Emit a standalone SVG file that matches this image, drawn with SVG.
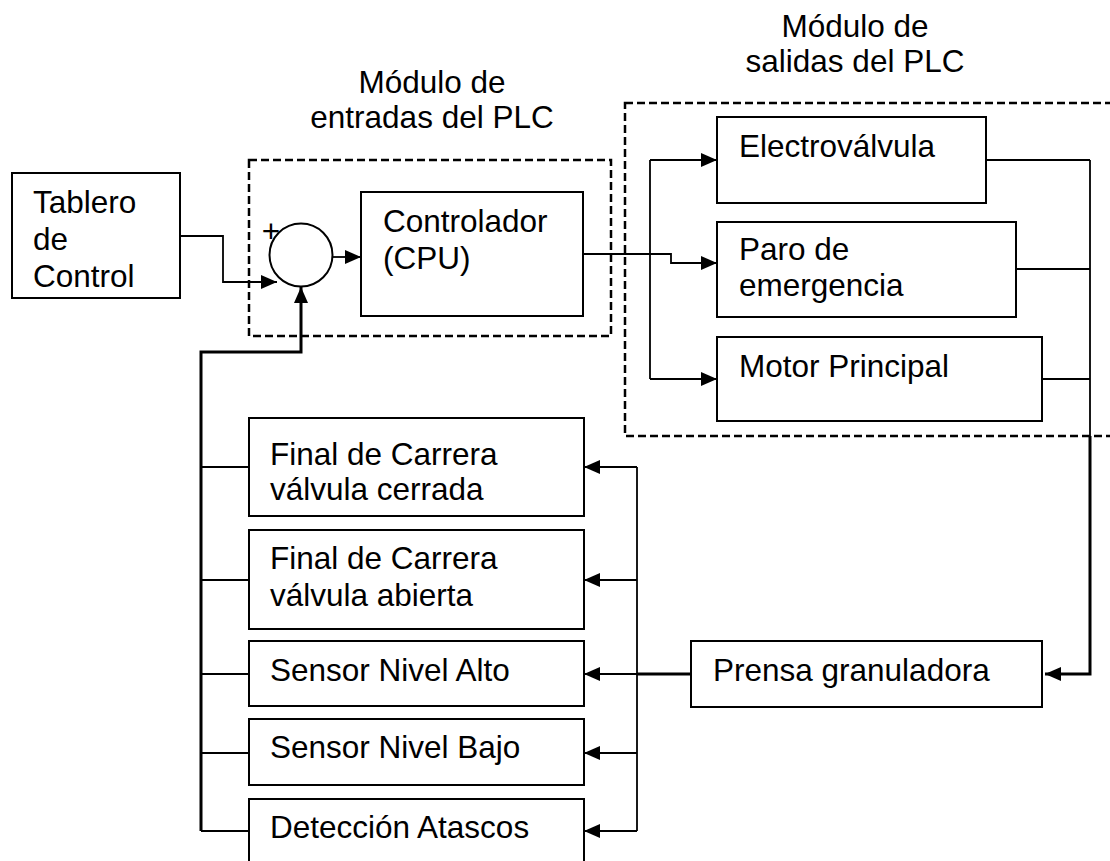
<svg xmlns="http://www.w3.org/2000/svg" width="1110" height="861" viewBox="0 0 1110 861">
<style>
.box{fill:#fff;stroke:#000;stroke-width:2}
.dash{fill:none;stroke:#000;stroke-width:2.5;stroke-dasharray:8 4}
.t{font-family:"Liberation Sans",Arial,sans-serif;font-size:31.5px;fill:#000}
.c{text-anchor:middle}
.ln{fill:none;stroke:#000;stroke-width:1.8}
.thick{fill:none;stroke:#000;stroke-width:3}
</style>
<defs>
<marker id="ah" markerUnits="userSpaceOnUse" markerWidth="16" markerHeight="14" refX="16" refY="7" orient="auto">
<path d="M0,0 L16,7 L0,14 Z" fill="#000"/>
</marker>
</defs>
<rect width="1110" height="861" fill="#fff"/>
<g id="labels">
<text class="t c" x="432" y="93">Módulo de</text>
<text class="t c" x="432" y="128">entradas del PLC</text>
<text class="t c" x="855" y="37">Módulo de</text>
<text class="t c" x="855" y="72">salidas del PLC</text>
</g>
<g id="modulo-entradas"><rect class="dash" x="249" y="160" width="362" height="176"/></g>
<g id="modulo-salidas"><rect class="dash" x="625" y="103" width="510" height="333"/></g>
<g id="connectors">
<path class="ln" d="M180,236 H223 V282 H277" marker-end="url(#ah)"/>
<path class="ln" d="M332,257 H361" marker-end="url(#ah)"/>
<path class="thick" d="M201,831 V352 H301 V287" marker-end="url(#ah)"/>
<path class="ln" d="M201,467 H249 M201,580 H249 M201,674 H249 M201,753 H249 M201,831 H249"/>
<path class="ln" d="M583,254 H650 M650,160 V379"/>
<path class="ln" d="M650,160 H717" marker-end="url(#ah)"/>
<path class="ln" d="M650,254 H671 V263 H717" marker-end="url(#ah)"/>
<path class="ln" d="M650,379 H717" marker-end="url(#ah)"/>
<path class="ln" d="M986,160 H1090 M1016,269 H1090 M1042,379 H1090 M1090,160 V436"/>
<path class="thick" d="M1090,436 V674 H1045" marker-end="url(#ah)"/>
<path class="thick" d="M691,674 H637"/>
<path class="ln" d="M637,467 V831"/>
<path class="ln" d="M637,467 H584" marker-end="url(#ah)"/>
<path class="ln" d="M637,580 H584" marker-end="url(#ah)"/>
<path class="ln" d="M637,674 H584" marker-end="url(#ah)"/>
<path class="ln" d="M637,753 H584" marker-end="url(#ah)"/>
<path class="ln" d="M637,831 H584" marker-end="url(#ah)"/>
</g>
<g id="tablero"><rect class="box" x="12" y="173" width="168" height="125"/>
<text class="t" x="33" y="213">Tablero</text><text class="t" x="33" y="250">de</text><text class="t" x="33" y="287">Control</text></g>
<g id="sumador"><circle cx="301" cy="255" r="31.5" fill="#fff" stroke="#000" stroke-width="2"/>
<text class="t c" x="271" y="242">+</text></g>
<g id="cpu"><rect class="box" x="361" y="192" width="222" height="124"/>
<text class="t" x="383" y="232">Controlador</text><text class="t" x="383" y="269">(CPU)</text></g>
<g id="electrovalvula"><rect class="box" x="717" y="117" width="269" height="86"/>
<text class="t" x="739" y="157">Electroválvula</text></g>
<g id="paro"><rect class="box" x="717" y="222" width="299" height="95"/>
<text class="t" x="739" y="260">Paro de</text><text class="t" x="739" y="296">emergencia</text></g>
<g id="motor"><rect class="box" x="717" y="337" width="325" height="84"/>
<text class="t" x="739" y="377">Motor Principal</text></g>
<g id="fc-cerrada"><rect class="box" x="249" y="418" width="335" height="98"/>
<text class="t" x="270" y="465">Final de Carrera</text><text class="t" x="270" y="500">válvula cerrada</text></g>
<g id="fc-abierta"><rect class="box" x="249" y="530" width="335" height="99"/>
<text class="t" x="270" y="569">Final de Carrera</text><text class="t" x="270" y="606">válvula abierta</text></g>
<g id="nivel-alto"><rect class="box" x="249" y="641" width="335" height="65"/>
<text class="t" x="270" y="681">Sensor Nivel Alto</text></g>
<g id="nivel-bajo"><rect class="box" x="249" y="719" width="335" height="66"/>
<text class="t" x="270" y="758">Sensor Nivel Bajo</text></g>
<g id="atascos"><rect class="box" x="249" y="799" width="335" height="90"/>
<text class="t" x="270" y="838">Detección Atascos</text></g>
<g id="prensa"><rect class="box" x="691" y="641" width="351" height="66"/>
<text class="t" x="713" y="681">Prensa granuladora</text></g>
</svg>
